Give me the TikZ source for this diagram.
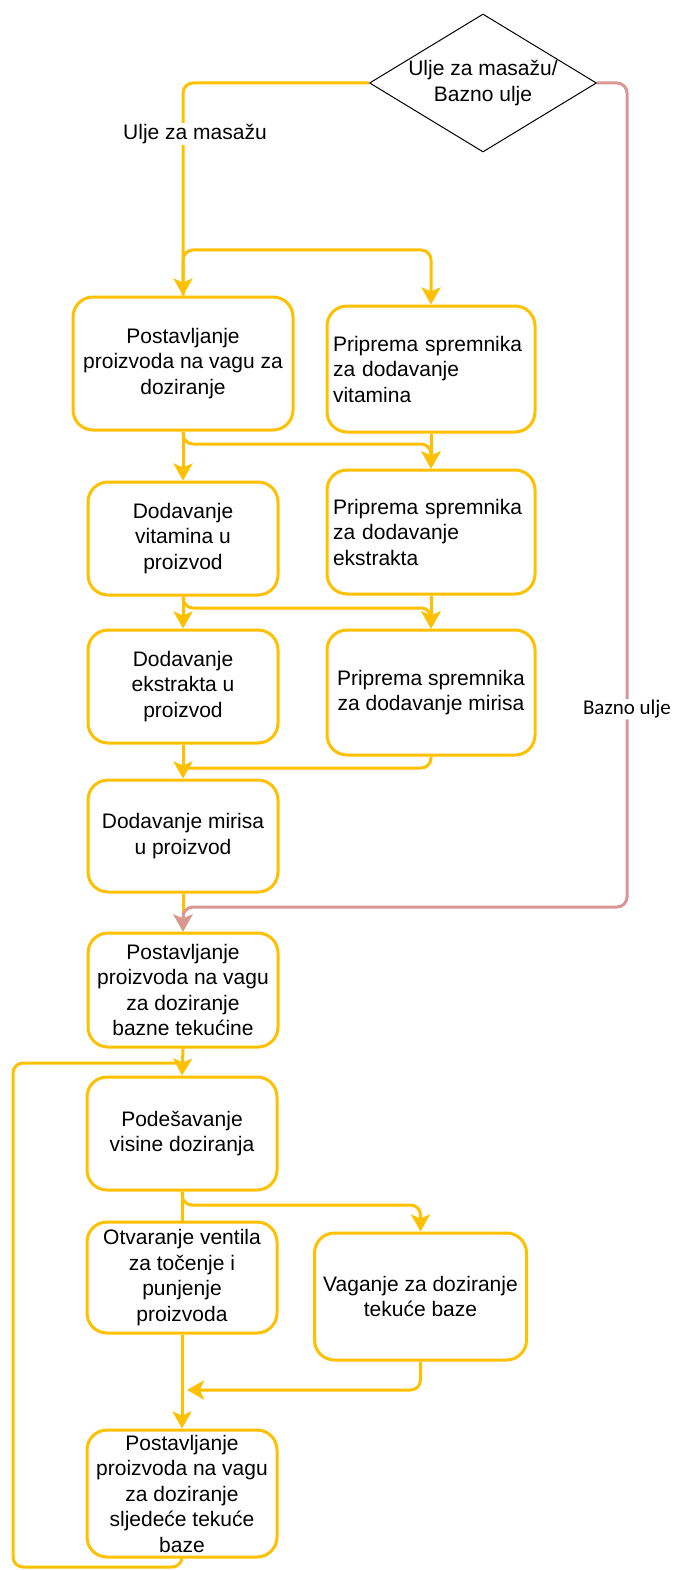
\documentclass[tikz,border=0pt]{standalone}
\usepackage{fontspec}
\setmainfont{Liberation Sans}
\newfontfamily\notefont{Carlito}
\usepackage{tikz}
\usetikzlibrary{shapes.geometric,arrows.meta}
\definecolor{flowyellow}{RGB}{255,192,0}
\definecolor{oilred}{RGB}{218,150,148}
\tikzset{
stepbox/.style={
  rectangle,
  rounded corners=20pt,
  draw=flowyellow,
  line width=3pt,
  fill=white,
  align=center,
  inner sep=0pt,
  minimum width=190pt,
  font=\fontsize{21}{25.5}\selectfont
},
prepbox/.style={
  stepbox,
  minimum width=208pt,
  text width=196pt,
  align=left
},
decision/.style={
  diamond,
  draw=black,
  line width=1pt,
  fill=white,
  shape aspect=1.65,
  inner sep=0pt,
  minimum width=227pt,
  minimum height=138pt,
  align=center,
  font=\fontsize{21}{25.5}\selectfont
},
link/.style={draw=flowyellow,line width=3pt,rounded corners=10pt},
flow/.style={link,-{Stealth[length=17pt,width=19pt,inset=4pt]}},
oil/.style={flow,draw=oilred,fill=none},
choice/.style={fill=white,inner sep=1pt,font=\fontsize{21}{25.5}\selectfont},
}

\begin{document}
\begin{tikzpicture}[x=1pt,y=-1pt]
\useasboundingbox (0,0) rectangle (674,1570);
% the decision
\node[decision] (dec) at (483,83) {Ulje za masažu/\\Bazno ulje};
% the boxes
\node[stepbox,minimum width=220pt,minimum height=133pt] (b1) at (183,363.5) {Postavljanje\\proizvoda na vagu za\\doziranje};
\node[prepbox,minimum height=126pt] (r1) at (431,369) {Priprema spremnika\\za dodavanje\\vitamina};
\node[stepbox,minimum height=113pt] (b2) at (183,538.5) {Dodavanje\\vitamina u\\proizvod};
\node[prepbox,minimum height=124pt] (r2) at (431,532) {Priprema spremnika\\za dodavanje\\ekstrakta};
\node[stepbox,minimum height=113pt] (b3) at (183,686.5) {Dodavanje\\ekstrakta u\\proizvod};
\node[stepbox,minimum width=208pt,minimum height=125pt] (r3) at (431,692.5) {Priprema spremnika\\za dodavanje mirisa};
\node[stepbox,minimum height=112pt] (b4) at (183,836) {Dodavanje mirisa\\u proizvod};
\node[stepbox,minimum height=114pt] (b5) at (183,990) {Postavljanje\\proizvoda na vagu\\za doziranje\\bazne tekućine};
\node[stepbox,minimum height=113pt] (b6) at (182,1133.5) {Podešavanje\\visine doziranja};
\node[stepbox,minimum height=111pt] (b7) at (182,1277.5) {Otvaranje ventila\\za točenje i\\punjenje\\proizvoda};
\node[stepbox,minimum width=212pt,minimum height=127pt] (r7) at (420.5,1296.5) {Vaganje za doziranje\\tekuće baze};
\node[stepbox,minimum height=127pt] (b8) at (182,1493.5) {Postavljanje\\proizvoda na vagu\\za doziranje\\sljedeće tekuće\\baze};
% the corner points
\coordinate (g0) at (431,250);
\coordinate (g1) at (431,444);
\coordinate (g2) at (431,608);
\coordinate (g3) at (183,768);
\coordinate (g4) at (627,907);
\coordinate (g5) at (420.5,1205);
\coordinate (g6) at (187,1390);
\coordinate (g7) at (13,1567);
\coordinate (g8) at (182,1063);
% the branches
\draw[flow] (b1.north) |- (g0) -- (r1.north);
\draw[flow] (dec.west) -| node[choice,pos=0.62,xshift=12pt] {Ulje za masažu} (b1.north);
\draw[flow] (b1.south) |- (g1) -- (r2.north);
\draw[flow] (b2.south) |- (g2) -- (r3.north);
\draw[link] (r3.south) |- (g3);
\draw[flow] (b6.south) |- (g5) -- (r7.north);
\draw[flow] (r7.south) |- (g6);
\draw[link] (b8.south) |- (g7) |- (g8);
% the straight arrows
\foreach \a/\b in {b1/b2,b2/b3,b3/b4,b4/b5,b5/b6,b7/b8,r1/r2,r2/r3}
  \draw[flow] (\a.south) -- (\b.north);
\draw[link] (b6.south) -- (b7.north);
% the base oil
\draw[oil] (dec.east) -| node[pos=0.88,fill=white,inner sep=1pt,font=\notefont\fontsize{21}{25.5}\selectfont] {Bazno ulje} (g4) -| (b5.north);
\end{tikzpicture}
\end{document}
